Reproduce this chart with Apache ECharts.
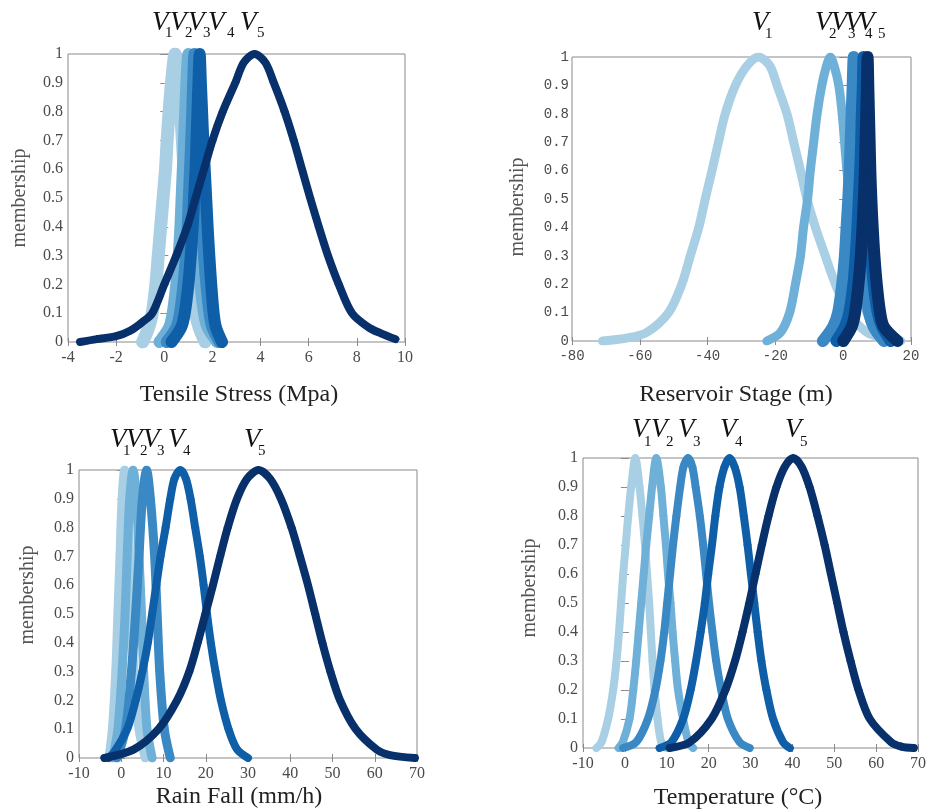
<!DOCTYPE html>
<html><head><meta charset="utf-8">
<script src="https://cdn.jsdelivr.net/npm/echarts@6/dist/echarts.min.js"></script>
<style>html,body{margin:0;padding:0;background:#fff}#c{width:929px;height:811px}</style>
</head><body><div id="c"></div>
<script>
// ---------- data ----------
const seriesNames = ['V1', 'V2', 'V3', 'V4', 'V5'];
const yTicks = [0, 1, 0.1];

// Tensile Stress (Mpa)
const tensileAxis = [-4, 10, 2];
const tensileV1 = [[-0.9,0],[-0.65,0.05],[-0.5,0.1],[-0.35,0.2],[-0.25,0.3],[-0.15,0.4],[-0.05,0.5],[0.05,0.6],[0.12,0.7],[0.2,0.8],[0.3,0.9],[0.45,1],[0.6,0.9],[0.68,0.8],[0.75,0.7],[0.82,0.6],[0.9,0.5],[0.97,0.4],[1.05,0.3],[1.15,0.2],[1.3,0.1],[1.45,0.05],[1.7,0]];
const tensileV2 = [[-0.2,0],[0.2,0.05],[0.35,0.1],[0.5,0.2],[0.6,0.3],[0.67,0.4],[0.72,0.5],[0.77,0.6],[0.82,0.7],[0.87,0.8],[0.92,0.9],[1.0,1],[1.08,0.9],[1.13,0.8],[1.18,0.7],[1.23,0.6],[1.28,0.5],[1.33,0.4],[1.4,0.3],[1.5,0.2],[1.65,0.1],[1.8,0.05],[2.2,0]];
const tensileV3 = [[0.1,0],[0.5,0.05],[0.65,0.1],[0.8,0.2],[0.9,0.3],[0.97,0.4],[1.02,0.5],[1.07,0.6],[1.12,0.7],[1.16,0.8],[1.2,0.9],[1.25,1],[1.32,0.9],[1.37,0.8],[1.42,0.7],[1.47,0.6],[1.52,0.5],[1.58,0.4],[1.65,0.3],[1.75,0.2],[1.88,0.1],[2.0,0.05],[2.3,0]];
const tensileV4 = [[0.3,0],[0.7,0.05],[0.85,0.1],[1.0,0.2],[1.1,0.3],[1.18,0.4],[1.24,0.5],[1.3,0.6],[1.34,0.7],[1.38,0.8],[1.42,0.9],[1.47,1],[1.52,0.9],[1.57,0.8],[1.62,0.7],[1.68,0.6],[1.74,0.5],[1.8,0.4],[1.87,0.3],[1.95,0.2],[2.05,0.1],[2.15,0.05],[2.4,0]];
const tensileV5 = [[-3.5,0],[-2.8,0.01],[-2.0,0.02],[-1.4,0.04],[-0.9,0.07],[-0.5,0.1],[0.0,0.2],[0.5,0.3],[0.95,0.4],[1.3,0.5],[1.65,0.6],[2.0,0.7],[2.43,0.8],[2.95,0.9],[3.3,0.97],[3.75,1],[4.2,0.97],[4.55,0.9],[5.0,0.8],[5.38,0.7],[5.72,0.6],[6.06,0.5],[6.42,0.4],[6.8,0.3],[7.25,0.2],[7.8,0.1],[8.5,0.05],[9.0,0.03],[9.6,0.01]];

// Reservoir Stage (m)
const reservoirAxis = [-80, 20, 20];
const reservoirV1 = [[-71,0],[-64,0.01],[-58,0.03],[-51.5,0.1],[-47.6,0.2],[-45.1,0.3],[-42.6,0.4],[-40.7,0.5],[-38.7,0.6],[-36.8,0.7],[-34.8,0.8],[-31.8,0.9],[-28.3,0.97],[-25,1],[-21.7,0.97],[-19.5,0.9],[-16.6,0.8],[-14.6,0.7],[-12.6,0.6],[-10.7,0.5],[-8.2,0.4],[-5.3,0.3],[-2.3,0.2],[1.6,0.1],[7,0.03],[12,0.01],[17,0]];
const reservoirV2 = [[-22.5,0],[-18.5,0.03],[-15.8,0.1],[-14.1,0.2],[-12.6,0.3],[-11.7,0.4],[-10.5,0.5],[-9.7,0.6],[-8.7,0.7],[-7.7,0.8],[-6.3,0.9],[-4.9,0.97],[-3.8,1],[-2.7,0.97],[-1.3,0.9],[-0.3,0.8],[0.4,0.7],[1.1,0.6],[2.0,0.5],[2.9,0.4],[4.0,0.3],[5.3,0.2],[7.0,0.1],[9.5,0.03],[12,0]];
const reservoirV3 = [[-6,0],[-3,0.05],[-1.5,0.1],[-0.3,0.2],[0.5,0.3],[1.0,0.4],[1.5,0.5],[1.9,0.6],[2.2,0.7],[2.5,0.8],[2.8,0.9],[3.1,1],[3.4,0.9],[3.7,0.8],[4.0,0.7],[4.3,0.6],[4.7,0.5],[5.2,0.4],[5.7,0.3],[6.5,0.2],[7.7,0.1],[9,0.05],[12,0]];
const reservoirV4 = [[-2,0],[0.5,0.05],[1.8,0.1],[3.0,0.2],[3.7,0.3],[4.2,0.4],[4.6,0.5],[5.0,0.6],[5.3,0.7],[5.5,0.8],[5.8,0.9],[6.0,1],[6.3,0.9],[6.5,0.8],[6.8,0.7],[7.1,0.6],[7.4,0.5],[7.8,0.4],[8.3,0.3],[9.0,0.2],[10.2,0.1],[11.5,0.05],[14,0]];
const reservoirV5 = [[0,0],[2.5,0.05],[3.5,0.1],[4.5,0.2],[5.2,0.3],[5.7,0.4],[6.1,0.5],[6.4,0.6],[6.6,0.7],[6.8,0.8],[7.0,0.9],[7.2,1],[7.4,0.9],[7.6,0.8],[7.8,0.7],[8.0,0.6],[8.3,0.5],[8.7,0.4],[9.2,0.3],[9.9,0.2],[10.9,0.1],[12,0.05],[16,0]];

// Rain Fall (mm/h)
const rainAxis = [-10, 70, 10];
const rainV1 = [[-2.9,0],[-2.1,0.1],[-1.3,0.3],[-0.8,0.5],[-0.3,0.7],[0.2,0.9],[0.8,1],[1.4,0.9],[2.0,0.7],[2.4,0.5],[3.0,0.3],[4.2,0.1],[5.7,0]];
const rainV2 = [[-2,0],[-0.8,0.1],[0.2,0.3],[0.9,0.5],[1.4,0.7],[2.0,0.9],[2.8,1],[3.6,0.9],[4.2,0.7],[4.8,0.5],[5.3,0.3],[6.1,0.1],[7.3,0]];
const rainV3 = [[-1,0],[1.0,0.1],[2.4,0.3],[3.4,0.5],[4.2,0.7],[5.0,0.9],[6.0,1],[6.9,0.9],[7.9,0.7],[8.5,0.5],[9.1,0.3],[10.2,0.1],[11.6,0]];
const rainV4 = [[-3,0],[-1.7,0.02],[1.4,0.1],[3.4,0.2],[5.0,0.3],[6.3,0.4],[7.3,0.5],[8.3,0.6],[9.3,0.7],[10.5,0.8],[11.6,0.9],[12.6,0.97],[14,1],[15.3,0.97],[16.4,0.9],[17.5,0.8],[18.6,0.7],[19.5,0.6],[20.3,0.5],[21.2,0.4],[22.3,0.3],[23.6,0.2],[25.4,0.1],[27.4,0.03],[30,0]];
const rainV5 = [[-4,0],[3,0.03],[8.8,0.1],[13.2,0.2],[16.1,0.3],[18.1,0.4],[19.9,0.5],[21.7,0.6],[23.4,0.7],[25.2,0.8],[27.4,0.9],[29.8,0.97],[32.5,1],[35.2,0.97],[37.8,0.9],[40.3,0.8],[42.3,0.7],[44.2,0.6],[45.9,0.5],[47.6,0.4],[49.5,0.3],[51.8,0.2],[55.5,0.1],[60.4,0.03],[63.6,0.01],[69.5,0]];

// Temperature (°C)
const tempAxis = [-10, 70, 10];
const tempV1 = [[-6.8,0],[-5.6,0.02],[-4.0,0.1],[-2.8,0.2],[-2.0,0.3],[-1.4,0.4],[-0.9,0.5],[-0.4,0.6],[0.2,0.7],[0.8,0.8],[1.5,0.9],[2.5,1],[3.5,0.9],[4.2,0.8],[4.8,0.7],[5.3,0.6],[5.8,0.5],[6.2,0.4],[6.6,0.3],[7.1,0.2],[7.8,0.1],[8.7,0.02],[10,0]];
const tempV2 = [[-1.5,0],[-0.5,0.02],[1.1,0.1],[2.0,0.2],[2.7,0.3],[3.3,0.4],[3.9,0.5],[4.5,0.6],[5.1,0.7],[5.8,0.8],[6.5,0.9],[7.5,1],[8.6,0.9],[9.2,0.8],[9.8,0.7],[10.3,0.6],[10.9,0.5],[11.4,0.4],[12.0,0.3],[12.7,0.2],[13.9,0.1],[15.2,0.02],[16.3,0]];
const tempV3 = [[-0.4,0],[2.7,0.02],[5.5,0.1],[7.3,0.2],[8.5,0.3],[9.4,0.4],[10.1,0.5],[10.8,0.6],[11.5,0.7],[12.3,0.8],[13.2,0.9],[14.0,0.97],[15.1,1],[16.1,0.97],[16.9,0.9],[17.9,0.8],[18.7,0.7],[19.4,0.6],[20.1,0.5],[20.9,0.4],[21.8,0.3],[23.0,0.2],[24.6,0.1],[27.4,0.02],[29.8,0]];
const tempV4 = [[8.3,0],[11.1,0.02],[13.9,0.1],[15.7,0.2],[17.0,0.3],[18.1,0.4],[19.1,0.5],[19.9,0.6],[20.8,0.7],[21.6,0.8],[22.6,0.9],[23.8,0.97],[25,1],[26.2,0.97],[27.4,0.9],[28.4,0.8],[29.3,0.7],[30.1,0.6],[30.9,0.5],[31.7,0.4],[32.6,0.3],[33.8,0.2],[35.4,0.1],[37.8,0.02],[39.4,0]];
const tempV5 = [[10.7,0],[15.5,0.02],[20.7,0.1],[24.0,0.2],[26.3,0.3],[28.1,0.4],[29.7,0.5],[31.2,0.6],[32.7,0.7],[34.3,0.8],[36.2,0.9],[38.2,0.97],[40.2,1],[42.2,0.97],[44.1,0.9],[46.0,0.8],[47.7,0.7],[49.2,0.6],[50.7,0.5],[52.2,0.4],[53.9,0.3],[55.8,0.2],[58.5,0.1],[63.6,0.02],[66,0.005],[69,0]];

// ---------- presentation ----------
const colors = ['#a9cfe5', '#6fb0d8', '#3a89c4', '#0f5ea8', '#08306b'];
const SERIF = '"Liberation Serif", "Times New Roman", serif';
const MONO = '"Liberation Mono", "Courier New", monospace';
const PLUS = 'path://M4,0h2v4h4v2h-4v4h-2v-4h-4v-2h4z';

const panels = [
  { title: 'Tensile Stress (Mpa)', axis: tensileAxis, data: [tensileV1, tensileV2, tensileV3, tensileV4, tensileV5],
    grid: {left: 68, top: 54, width: 337, height: 288}, font: SERIF, widths: [13, 12, 12, 12, 8],
    titleXY: [239, 395], memXY: [20, 198],
    vLabels: [[152, 23, 165, 33], [170, 23, 185, 33], [188, 23, 203, 33], [208, 23, 227, 33], [240, 23, 257, 33]] },
  { title: 'Reservoir Stage (m)', axis: reservoirAxis, data: [reservoirV1, reservoirV2, reservoirV3, reservoirV4, reservoirV5],
    grid: {left: 572, top: 57, width: 339, height: 284}, font: MONO, widths: [9, 9, 12, 12, 12],
    titleXY: [736, 395], memXY: [518, 207],
    vLabels: [[752, 23, 765, 34], [815, 23, 829, 34], [831, 23, 848, 34], [845, 23, 865, 34], [858, 23, 878, 34]] },
  { title: 'Rain Fall (mm/h)', axis: rainAxis, data: [rainV1, rainV2, rainV3, rainV4, rainV5],
    grid: {left: 79, top: 470, width: 338, height: 288}, font: SERIF, widths: [9, 9, 9, 8, 8],
    titleXY: [239, 797], memXY: [28, 595],
    vLabels: [[110, 440, 123, 451], [126, 440, 140, 451], [143, 440, 157, 451], [168, 440, 183, 451], [244, 440, 258, 451]] },
  { title: 'Temperature (\u00B0C)', axis: tempAxis, data: [tempV1, tempV2, tempV3, tempV4, tempV5],
    grid: {left: 583, top: 458, width: 335, height: 290}, font: SERIF, widths: [8, 8, 8, 8, 8],
    titleXY: [738, 798], memXY: [530, 588],
    vLabels: [[632, 430, 644, 442], [651, 430, 666, 442], [678, 430, 693, 442], [720, 430, 735, 442], [785, 430, 800, 442]] }
];

const grids = [], xAxes = [], yAxes = [], series = [], graphic = [];
const axisGrey = '#8a8a8a';
panels.forEach((p, i) => {
  grids.push(Object.assign({show: true, borderColor: axisGrey, borderWidth: 1, backgroundColor: '#fff'}, p.grid));
  const lab = {fontFamily: p.font, fontSize: p.font === MONO ? 14 : 16, color: '#4a4a4a'};
  const tick = {show: true, inside: true, length: 4, lineStyle: {color: axisGrey}};
  xAxes.push({gridIndex: i, type: 'value', min: p.axis[0], max: p.axis[1], interval: p.axis[2], position: 'bottom',
    axisLine: {show: false}, axisTick: tick, splitLine: {show: false}, axisLabel: Object.assign({margin: 8}, lab)});
  xAxes.push({gridIndex: i, type: 'value', min: p.axis[0], max: p.axis[1], interval: p.axis[2], position: 'top',
    axisLine: {show: false}, axisTick: tick, splitLine: {show: false}, axisLabel: {show: false}});
  yAxes.push({gridIndex: i, type: 'value', min: yTicks[0], max: yTicks[1], interval: yTicks[2], position: 'left',
    axisLine: {show: false}, axisTick: tick, splitLine: {show: false},
    axisLabel: Object.assign({margin: p.font === MONO ? 3 : 5, formatter: v => String(+v.toFixed(1))}, lab)});
  yAxes.push({gridIndex: i, type: 'value', min: yTicks[0], max: yTicks[1], interval: yTicks[2], position: 'right',
    axisLine: {show: false}, axisTick: tick, splitLine: {show: false}, axisLabel: {show: false}});
  p.data.forEach((d, k) => {
    series.push({
      name: seriesNames[k], type: 'line', xAxisIndex: 2 * i, yAxisIndex: 2 * i, data: d,
      smooth: 0.3, symbol: PLUS, symbolSize: 8, showSymbol: true,
      itemStyle: {color: colors[k]}, lineStyle: {color: colors[k], width: p.widths[k], cap: 'round', join: 'round'},
      z: 2 + k, silent: true
    });
  });
  graphic.push({type: 'text', x: p.titleXY[0], y: p.titleXY[1], style: {text: p.title, font: '24px ' + SERIF, fill: '#222', align: 'center', verticalAlign: 'middle', textAlign: 'center', textVerticalAlign: 'middle'}});
  graphic.push({type: 'text', x: p.memXY[0], y: p.memXY[1], rotation: Math.PI / 2, style: {text: 'membership', font: '20px ' + SERIF, fill: '#555', align: 'center', verticalAlign: 'middle', textAlign: 'center', textVerticalAlign: 'middle'}});
  p.vLabels.forEach((v, k) => {
    graphic.push({type: 'text', x: v[0], y: v[1], z: 100, style: {text: 'V', font: 'italic 27px ' + SERIF, fill: '#111', align: 'left', verticalAlign: 'middle', textAlign: 'left', textVerticalAlign: 'middle'}});
    graphic.push({type: 'text', x: v[2], y: v[3], z: 100, style: {text: seriesNames[k].slice(1), font: '15px ' + SERIF, fill: '#111', align: 'left', verticalAlign: 'middle', textAlign: 'left', textVerticalAlign: 'middle'}});
  });
});

const chart = echarts.init(document.getElementById('c'), null, {renderer: 'canvas'});
chart.setOption({animation: false, backgroundColor: '#fff', grid: grids, xAxis: xAxes, yAxis: yAxes, series, graphic});
</script></body></html>
